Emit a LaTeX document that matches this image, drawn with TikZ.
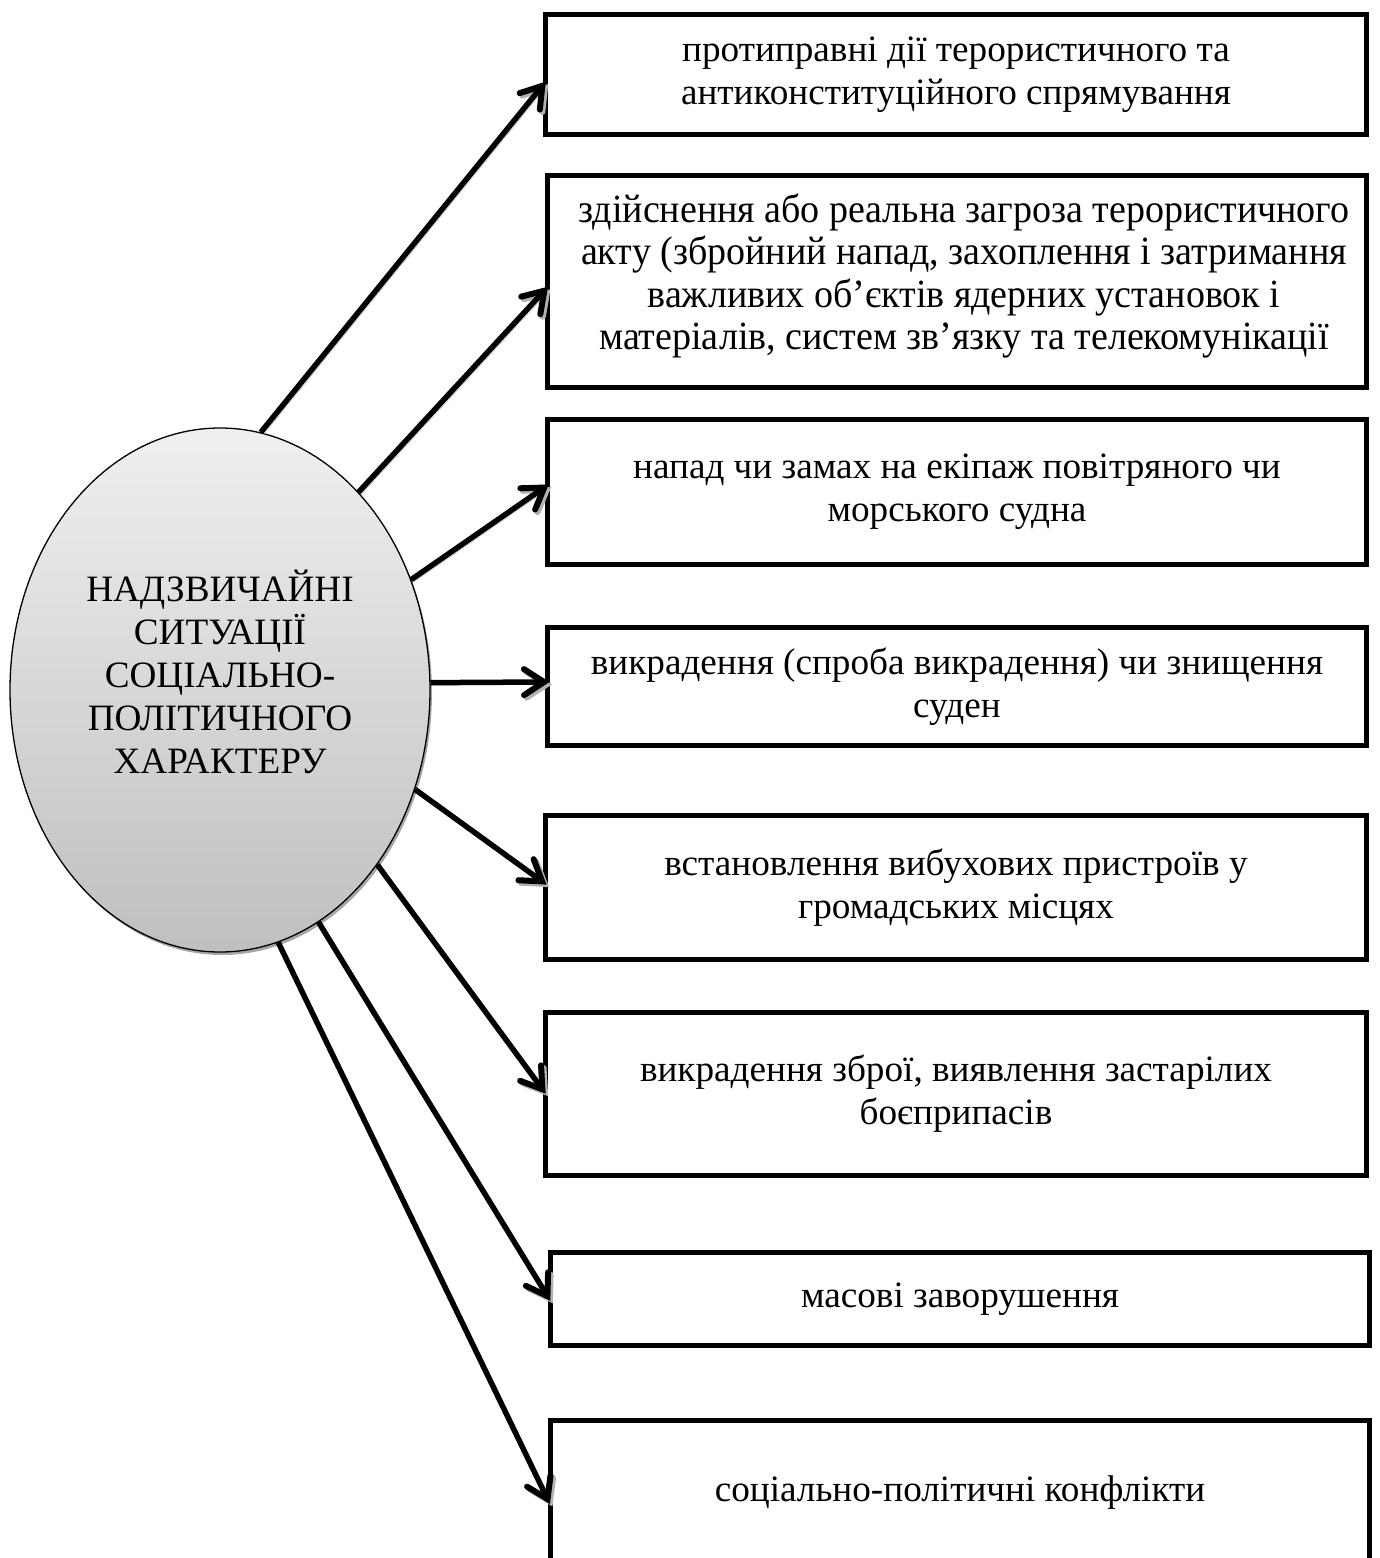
\documentclass[tikz,border=0pt]{standalone}
\usepackage{fontspec}
\setmainfont{Liberation Serif}
\usetikzlibrary{shadows,shapes.geometric,decorations.markings}
\newcommand{\cnd}{\addfontfeatures{FakeStretch=0.95}}
\begin{document}
\begin{tikzpicture}[x=1pt,y=-1pt,
  txt/.style={font=\fontsize{37.2}{43}\selectfont, align=center},
  itembox/.style={draw, line width=5pt, rectangle, inner sep=0pt, txt},
  barbtip/.style={postaction={decorate, decoration={markings,
      mark=at position 1 with {\draw[#1, line width=6pt, line join=miter, line cap=round]
        (-21pt,13pt) -- (-1pt,0pt) -- (-21pt,-13pt);}}}},
  conn/.style={line width=5.5pt,
    preaction={draw=gray!60, barbtip=gray!60, transform canvas={shift={(2.5pt,-2.5pt)}}},
    barbtip=black},
  hub/.style={ellipse, draw, line width=1.3pt, inner sep=0pt,
    minimum width=420pt, minimum height=524pt,
    top color=black!6, bottom color=black!25,
    drop shadow={shadow xshift=2pt, shadow yshift=-3pt, fill=gray!70, opacity=1}}
]
\useasboundingbox (0,0) rectangle (1379,1558);

\node[hub] (e) at (220,690) {};
\node[txt] (et) at (220,672) {НАДЗВИЧАЙНІ\\СИТУАЦІЇ\\СОЦІАЛЬНО-\\ПОЛІТИЧНОГО\\ХАРАКТЕРУ};

\node[itembox, minimum width=821pt, minimum height=120pt] (b1) at (956,74.5)
  {протиправні дії терористичного та\\антиконституційного спрямування};
\node[itembox, minimum width=819pt, minimum height=212pt] (b2) at (957,281.5) {};
\node[txt, font=\fontsize{40}{42.5}\selectfont] (b2t) at (964,276)
  {\cnd здійснення або реальна загроза терористичного\\\cnd акту (збройний напад, захоплення і затримання\\\cnd важливих об’єктів ядерних установок і\\\cnd матеріалів, систем зв’язку та телекомунікації};
\node[itembox, minimum width=819pt, minimum height=145pt] (b3) at (957,492)
  {напад чи замах на екіпаж повітряного чи\\морського судна};
\node[itembox, minimum width=819pt, minimum height=118pt] (b4) at (957,686.5)
  {викрадення (спроба викрадення) чи знищення\\суден};
\node[itembox, minimum width=821pt, minimum height=144pt] (b5) at (956,887.5)
  {встановлення вибухових пристроїв у\\громадських місцях};
\node[itembox, minimum width=821pt, minimum height=163pt] (b6) at (956,1094)
  {викрадення зброї, виявлення застарілих\\боєприпасів};
\node[itembox, minimum width=819pt, minimum height=93pt] (b7) at (960,1299)
  {масові заворушення};
\node[itembox, minimum width=819pt, minimum height=147pt] (b8) at (960,1494)
  {\raisebox{10pt}{соціально-політичні конфлікти}};

\draw[conn] (e.81) -- ([yshift=-10.5pt]b1.west);
\draw[conn] (e.55) -- ([yshift=-8.5pt]b2.west);
\draw[conn] (e.30) -- ([yshift=5pt]b3.west);
\draw[conn] (e.2) -- ([yshift=4.5pt]b4.west);
\draw[conn] (e.-27.6) -- ([yshift=5.5pt]b5.west);
\draw[conn] (e.-48) -- ([yshift=4pt]b6.west);
\draw[conn] (e.-67) -- ([yshift=2pt]b7.west);
\draw[conn] (e.-77.4) -- ([yshift=-6pt]b8.west);
\end{tikzpicture}
\end{document}
